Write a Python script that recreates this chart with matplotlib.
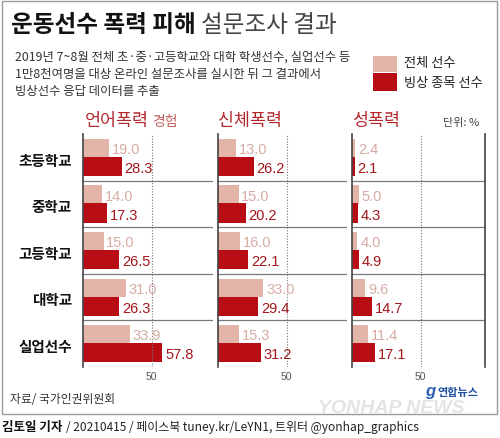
import matplotlib.pyplot as plt
from matplotlib.patches import Rectangle

plt.rcParams["font.family"] = ["Noto Sans CJK KR", "DejaVu Sans"]

categories = ["초등학교", "중학교", "고등학교", "대학교", "실업선수"]
panel_titles = ["언어폭력", "신체폭력", "성폭력"]
all_verbal = [19.0, 14.0, 15.0, 31.0, 33.9]
skate_verbal = [28.3, 17.3, 26.5, 26.3, 57.8]
all_physical = [13.0, 15.0, 16.0, 33.0, 15.3]
skate_physical = [26.2, 20.2, 22.1, 29.4, 31.2]
all_sexual = [2.4, 5.0, 4.0, 9.6, 11.4]
skate_sexual = [2.1, 4.3, 4.9, 14.7, 17.1]
series_all = [all_verbal, all_physical, all_sexual]
series_skate = [skate_verbal, skate_physical, skate_sexual]

LIGHT = "#e3b5a8"
DARK = "#b80d14"
LIGHT_TXT = "#d6aca3"
DARK_TXT = "#a3161c"
HEAD = "#b3262b"

W, H = 500, 439
fig = plt.figure(figsize=(W / 100, H / 100), dpi=100)


def fx(x):
    return x / W


def fy(y):
    return 1 - y / H


# outer frame
fig.patches.append(Rectangle((fx(2), fy(415)), fx(495), 413 / H, transform=fig.transFigure,
                             fill=False, edgecolor="#9a9a9a", lw=1))

# title
fig.text(fx(11), fy(25), "운동선수 폭력 피해", fontsize=17, weight="bold", color="#111", va="center")
fig.text(fx(201), fy(25), "설문조사 결과", fontsize=17, color="#444", va="center")

sub = ["2019년 7~8월 전체 초·중·고등학교와 대학 학생선수, 실업선수 등",
       "1만8천여명을 대상 온라인 설문조사를 실시한 뒤 그 결과에서",
       "빙상선수 응답 데이터를 추출"]
for i, line in enumerate(sub):
    fig.text(fx(15), fy(57 + i * 17.5), line, fontsize=8.9, color="#333", va="center")

# legend
fig.patches.append(Rectangle((fx(373), fy(73)), fx(24), 16 / H, transform=fig.transFigure, color=LIGHT, lw=0))
fig.patches.append(Rectangle((fx(373), fy(92)), fx(24), 18 / H, transform=fig.transFigure, color=DARK, lw=0))
fig.text(fx(404), fy(64), "전체 선수", fontsize=9.5, color="#222", va="center")
fig.text(fx(404), fy(83), "빙상 종목 선수", fontsize=9.5, color="#222", va="center")

# panel headers
fig.text(fx(85), fy(121), "언어폭력", fontsize=12.5, color=HEAD, va="center")
fig.text(fx(152), fy(122), "경험", fontsize=10, color="#c0625f", va="center")
fig.text(fx(218), fy(121), "신체폭력", fontsize=12.5, color=HEAD, va="center")
fig.text(fx(352), fy(121), "성폭력", fontsize=12.5, color=HEAD, va="center")
fig.text(fx(443), fy(123), "단위: %", fontsize=8, color="#444", va="center")

# panels
px_per_unit = 1.372
lefts = [83, 218, 352]
widths = [130, 129, 133]
top, bottom = 135, 368
n = len(categories)
rows = list(range(n))

for p in range(3):
    ax = fig.add_axes([fx(lefts[p]), fy(bottom), fx(widths[p]), (bottom - top) / H])
    ax.set_xlim(0, widths[p] / px_per_unit)
    ax.set_ylim(n, 0)
    ax.barh([r + 0.3 for r in rows], series_all[p], height=0.39, color=LIGHT, lw=0)
    ax.barh([r + 0.695 for r in rows], series_skate[p], height=0.41, color=DARK, lw=0)
    for r in rows:
        ax.annotate(f"{series_all[p][r]:.1f}", (series_all[p][r], r + 0.32), xytext=(2, 0),
                    textcoords="offset points", va="center", ha="left", fontsize=10.5,
                    color=LIGHT_TXT, family="Liberation Sans")
        ax.annotate(f"{series_skate[p][r]:.1f}", (series_skate[p][r], r + 0.73), xytext=(2, 0),
                    textcoords="offset points", va="center", ha="left", fontsize=10.5,
                    color=DARK_TXT, family="Liberation Sans")
    for r in rows[1:]:
        ax.axhline(r, color="#7a7a7a", lw=0.9)
    ax.axvline(50, color="#777", lw=0.8, ls=(0, (1, 1.5)))
    for s in ["top", "bottom", "right"]:
        ax.spines[s].set_visible(False)
    ax.spines["left"].set_color("#444")
    ax.spines["left"].set_linewidth(1.2)
    if p == 2:
        ax.spines["right"].set_visible(True)
        ax.spines["right"].set_color("#444")
        ax.spines["right"].set_linewidth(1.2)
    ax.set_yticks([])
    ax.set_xticks([50])
    ax.set_xticklabels(["50"], family="Liberation Sans")
    ax.tick_params(axis="x", length=0, labelsize=7.5, labelcolor="#555", pad=3)
    ax.patch.set_alpha(0)

# row labels
for r, cat in enumerate(categories):
    y = top + (r + 0.55) * (bottom - top) / n
    fig.text(fx(72), fy(y), cat, fontsize=10.5, weight="bold", color="#111", ha="right", va="center")

# footer
fig.text(fx(10), fy(400), "자료/ 국가인권위원회", fontsize=8.5, color="#333", va="center")
fig.text(fx(318), fy(409), "YONHAP NEWS", fontsize=14, weight="bold", style="italic",
         color="#dddddd", va="center", family="Liberation Sans", alpha=0.8)
fig.text(fx(437), fy(393), "연합뉴스", fontsize=8, weight="bold", color="#1f4fa0", va="center")
fig.text(fx(425), fy(392), "g", fontsize=12, weight="bold", style="italic", color="#2a5fb5",
         va="center", family="Liberation Sans")

fig.text(fx(2), fy(428), "김토일 기자", fontsize=9, weight="bold", color="#111", va="center")
fig.text(fx(66), fy(428), "/ 20210415 / 페이스북 tuney.kr/LeYN1, 트위터 @yonhap_graphics",
         fontsize=8.6, color="#222", va="center")

fig.savefig("out.png", dpi=100)
